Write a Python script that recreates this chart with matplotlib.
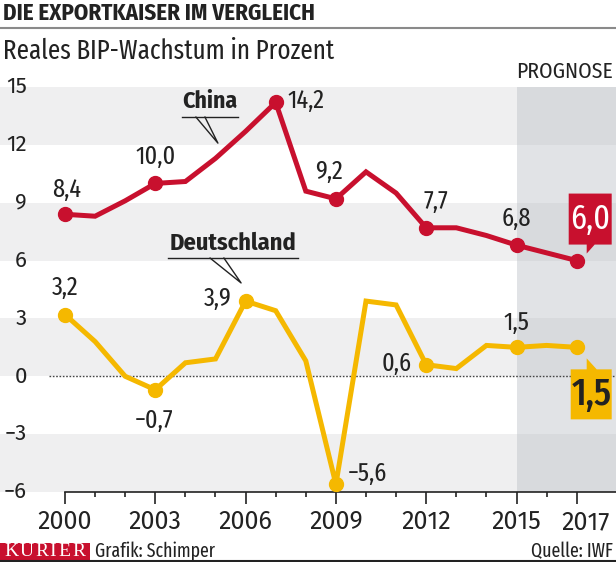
import matplotlib
matplotlib.use("Agg")
import matplotlib.pyplot as plt
import matplotlib.transforms as mtransforms
from matplotlib.patches import Rectangle, Polygon
from matplotlib.lines import Line2D

# data (IWF, reales BIP-Wachstum in %)
years = list(range(2000, 2018))
china = [8.4, 8.3, 9.1, 10.0, 10.1, 11.3, 12.7, 14.2, 9.6, 9.2,
         10.6, 9.5, 7.7, 7.7, 7.3, 6.8, 6.4, 6.0]
germany = [3.2, 1.8, 0.0, -0.7, 0.7, 0.9, 3.9, 3.4, 0.8, -5.6,
           3.9, 3.7, 0.6, 0.4, 1.6, 1.5, 1.6, 1.5]
china_marked = [2000, 2003, 2007, 2009, 2012, 2015, 2017]
germany_marked = [2000, 2003, 2006, 2009, 2012, 2015, 2017]
xtick_years = [2000, 2003, 2006, 2009, 2012, 2015, 2017]
yticks = [-6, -3, 0, 3, 6, 9, 12, 15]
forecast_start = 2015

RED = '#c8102e'
YELLOW = '#f5b800'
TXT = '#222222'
BAND = '#efeff0'
COND = ['Fira Sans Condensed', 'Barlow Condensed', 'DejaVu Sans']
XCOND = ['Fira Sans Extra Condensed', 'Barlow Condensed', 'DejaVu Sans']
SANS = ['Fira Sans', 'DejaVu Sans']

W, H = 616, 562
fig = plt.figure(figsize=(W / 100, H / 100), dpi=100)

# plot area in pixels: 2000 sits at x=65, 30.1 px per year, 15 at y=87, -6 at y=492
x0_px, px_year = 65, 30.1
top_px, bot_px = 87, 492
ax = fig.add_axes([0, (H - bot_px) / H, 1, (bot_px - top_px) / H])
ax.set_xlim(2000 - x0_px / px_year, 2000 + (W - x0_px) / px_year)
ax.set_ylim(-6, 15)
ax.patch.set_alpha(0)
for s in ['top', 'right', 'left']:
    ax.spines[s].set_visible(False)
ax.spines['bottom'].set_bounds(2000, ax.get_xlim()[1])
ax.spines['bottom'].set_color(TXT)
ax.spines['bottom'].set_linewidth(1.2)

# alternating bands
for lo in range(-6, 15, 6):
    ax.axhspan(lo, lo + 3, color=BAND, zorder=0, lw=0)
# forecast shading
ax.axvspan(forecast_start, ax.get_xlim()[1], color='#b9bec4', alpha=0.42, zorder=0.5, lw=0)
ax.text(forecast_start, 1.012, 'PROGNOSE', transform=ax.get_xaxis_transform(),
        ha='left', va='bottom', fontsize=15.5, family=COND, color=TXT)

# zero line
ax.axhline(0, xmin=(x0_px - 16) / W, color='#444444', lw=1, ls=(0, (1.2, 1.2)), zorder=1)

# y labels
for v in yticks:
    ax.text(27 / W, v, str(v).replace('-', '\u2212'), transform=ax.get_yaxis_transform(),
            ha='right', va='center', fontsize=16, family=SANS, color=TXT)
ax.set_yticks([])

# x ticks
ax.set_xticks(xtick_years)
ax.set_xticks(years, minor=True)
ax.set_xticklabels([str(y) for y in xtick_years], fontsize=18, family=SANS, color=TXT)
ax.tick_params(axis='x', which='major', length=8.6, width=1.2, color=TXT, pad=4)
ax.tick_params(axis='x', which='minor', length=3.6, width=1.2, color=TXT)
last = ax.get_xticklabels()[-1]
last.set_transform(last.get_transform() + mtransforms.ScaledTranslation(0.09, 0, fig.dpi_scale_trans))

# lines
ax.plot(years, china, color=RED, lw=3.6, solid_joinstyle='miter', zorder=3)
ax.plot(years, germany, color=YELLOW, lw=3.6, solid_joinstyle='miter', zorder=3)
ax.plot(china_marked, [china[years.index(y)] for y in china_marked], 'o',
        color=RED, ms=10, zorder=4)
ax.plot(germany_marked, [germany[years.index(y)] for y in germany_marked], 'o',
        color=YELLOW, ms=10, zorder=4)


def fmt(v):
    return f'{v:.1f}'.replace('.', ',').replace('-', '\u2212')


def label(year, series, dx, dy, ha, va):
    v = series[years.index(year)]
    ax.annotate(fmt(v), (year, v), xytext=(dx, dy), textcoords='offset pixels',
                ha=ha, va=va, fontsize=19, family=XCOND, color=TXT, zorder=5)


# China labels
label(2000, china, 2, 12, 'center', 'bottom')
label(2003, china, 0, 14, 'center', 'bottom')
label(2007, china, 12, 2, 'left', 'center')
label(2009, china, -7, 15, 'center', 'bottom')
label(2012, china, 10, 14, 'center', 'bottom')
label(2015, china, 0, 14, 'center', 'bottom')
# Germany labels
label(2000, germany, 0, 14, 'center', 'bottom')
label(2003, germany, -1, -18, 'center', 'top')
label(2006, germany, -14, 2, 'right', 'center')
label(2009, germany, 12, 11, 'left', 'center')
label(2012, germany, -14, 1, 'right', 'center')
label(2015, germany, 0, 12, 'center', 'bottom')

# series name callouts (year, value positions)
ax.text(2004.82, 14.27, 'China', ha='center', va='center', fontsize=17,
        fontweight='bold', family=COND, color=TXT)
ax.plot([2003.89, 2005.75], [13.44, 13.44], color=TXT, lw=1)
ax.plot([2004.35, 2005.08, 2004.65], [13.44, 12.09, 13.44], color=TXT, lw=1)
ax.text(2005.58, 6.91, 'Deutschland', ha='center', va='center', fontsize=17.5,
        fontweight='bold', family=COND, color=TXT)
ax.plot([2003.42, 2007.74], [6.13, 6.13], color=TXT, lw=1)
ax.plot([2004.82, 2005.85, 2005.28], [6.13, 4.84, 6.13], color=TXT, lw=1)

# value boxes for 2017 forecast
fig.canvas.draw()
cx, cy = ax.transData.transform((2017, china[-1]))
box = [(cx - 8, cy + 16), (cx + 10, cy + 16), (cx + 10, cy + 7), (cx + 18, cy + 16),
       (cx + 35, cy + 16), (cx + 35, cy + 67), (cx - 8, cy + 67)]
fig.add_artist(Polygon(box, closed=True, transform=None, color=RED, lw=0, zorder=6))
fig.text((cx + 13.5) / W, (cy + 41.5) / H, fmt(china[-1]), ha='center', va='center',
         fontsize=25, family=XCOND, color='white', zorder=7)

gx, gy = ax.transData.transform((2017, germany[-1]))
box = [(gx - 6, gy - 22), (gx + 35, gy - 22), (gx + 35, gy - 72), (gx - 6, gy - 72),
       (gx - 6, gy - 22), (gx + 10, gy - 22), (gx + 10, gy - 11), (gx + 20, gy - 22)]
fig.add_artist(Polygon(box, closed=True, transform=None, color=YELLOW, lw=0, zorder=6))
fig.text((gx + 14.5) / W, (gy - 47) / H, fmt(germany[-1]), ha='center', va='center',
         fontsize=28, fontweight='medium', family=XCOND, color=TXT, zorder=7)

# header
fig.text(3 / W, 1 - 13 / H, 'DIE EXPORTKAISER IM VERGLEICH', ha='left', va='center',
         fontsize=16.5, fontweight='bold', family=COND, color=TXT)
fig.add_artist(Line2D([0, 1], [1 - 28 / H] * 2, color='#8a8a8a', lw=1.5))
fig.text(3 / W, 1 - 51 / H, 'Reales BIP-Wachstum in Prozent', ha='left', va='center',
         fontsize=19.5, family=XCOND, color=TXT)

# footer
fig.add_artist(Rectangle((0, 2 / H), 90 / W, 17 / H, color=RED, lw=0))
for ch, px in zip('KURIER', [11.5, 26.5, 41.5, 53, 64, 78.5]):
    fig.text(px / W, 10 / H, ch, ha='center', va='center', fontsize=14,
             family=['Liberation Serif', 'DejaVu Serif'], color='white')
fig.text(95 / W, 10.5 / H, 'Grafik: Schimper', ha='left', va='center', fontsize=14,
         family=XCOND, color=TXT)
fig.text(613 / W, 10.5 / H, 'Quelle: IWF', ha='right', va='center', fontsize=14,
         family=XCOND, color=TXT)
fig.add_artist(Line2D([0, 1], [1 / H] * 2, color=TXT, lw=1.5))

fig.savefig('out.png', dpi=100)
